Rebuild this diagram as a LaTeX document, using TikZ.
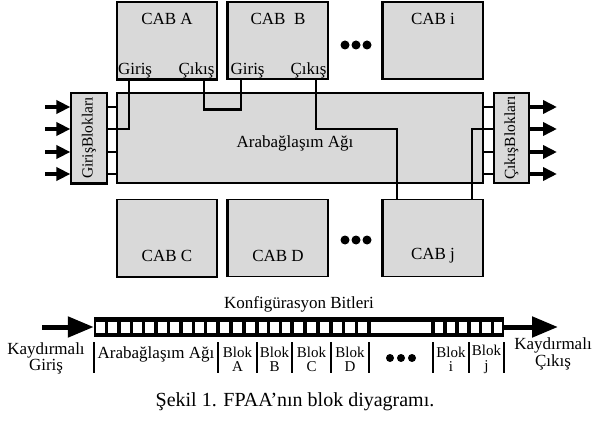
\documentclass[tikz,border=0pt]{standalone}
\usepackage{fontspec}
\setmainfont{Liberation Serif}
\usepackage{tikz}
\usetikzlibrary{arrows.meta,positioning}
\definecolor{PanelGray}{HTML}{D9D9D9}

\begin{document}
\begin{tikzpicture}[x=1pt, y=-1pt, every node/.style={font=\fontsize{17}{19}\selectfont, inner sep=0pt}]
\tikzset{cabbox/.style={draw, line width=1.2pt, fill=PanelGray, minimum width=100pt, minimum height=77pt}}
\tikzset{iobox/.style={draw, line width=1.2pt, fill=PanelGray, minimum width=36pt, minimum height=90pt}}
\tikzset{wire/.style={line width=1.6pt}}
\tikzset{inarrow/.style={-{Triangle[length=14pt,width=13pt]}, line width=4pt}}
\tikzset{bigarrow/.style={-{Triangle[length=26pt,width=20pt]}, line width=5pt}}
\tikzset{twoline/.style={align=center, font=\fontsize{17}{13.5}\selectfont}}
\tikzset{bitlabel/.style={align=center, font=\fontsize{15}{14.5}\selectfont}}
\useasboundingbox (0,0) rectangle (592,425);
% configurable analog blocks
\node[cabbox] (cabA) at (167,40.5) {};
\node[cabbox] (cabB) at (278,40.5) {};
\node[cabbox] (cabI) at (433,40.5) {};
\node[cabbox] (cabC) at (167,238) {};
\node[cabbox] (cabD) at (278,238) {};
\node[cabbox] (cabJ) at (433,238) {};
\draw[line width=2.5pt] (cabB.south west) -- (cabB.north west);
\draw[line width=2.5pt] (cabI.south west) -- (cabI.north west);
\draw[line width=2.5pt] (cabJ.south west) -- (cabJ.north west);
\draw[line width=2.5pt] (cabD.south west) -- (cabD.north west);
\draw[line width=2.5pt] (cabA.south west) -- (cabA.south east);
\draw[line width=2.5pt] (cabC.south west) -- (cabC.south east);
\node (cabAname) at ([yshift=-18pt]cabA.north) {CAB A};
\node (cabBname) at ([yshift=-18pt]cabB.north) {CAB\ \ B};
\node (cabIname) at ([yshift=-18pt]cabI.north) {CAB i};
\node (cabCname) at ([yshift=21pt]cabC.south) {CAB C};
\node (cabDname) at ([yshift=21pt]cabD.south) {CAB D};
\node (cabJname) at ([yshift=21pt]cabJ.south) {CAB j};
\node[anchor=south west] (cabAin) at ([xshift=1.5pt,yshift=1.5pt]cabA.south west) {Giriş};
\node[anchor=south east] (cabAout) at ([xshift=-3pt,yshift=1.5pt]cabA.south east) {Çıkış};
\node[anchor=south west] (cabBin) at ([xshift=3pt,yshift=1.5pt]cabB.south west) {Giriş};
\node[anchor=south east] (cabBout) at ([xshift=-2pt,yshift=1.5pt]cabB.south east) {Çıkış};
\foreach \x in {345,356,367} {
  \fill (\x,45) circle (4.5pt);
  \fill (\x,240) circle (4.5pt);
}
% interconnect and i/o blocks
\node[draw, line width=1.2pt, fill=PanelGray, minimum width=366pt, minimum height=90pt] (net) at (300,138) {};
\node (netLbl) at (295,143) {Arabağlaşım Ağı};
\node[iobox] (inblk) at (89,138) {};
\node[iobox, minimum width=35pt] (outblk) at (511.5,138) {};
\draw[line width=2.5pt] (inblk.south west) -- (inblk.south east);
\node[rotate=90, font=\fontsize{15.5}{17}\selectfont] (inLbl) at (inblk) {GirişBlokları};
\node[rotate=90, font=\fontsize{15.5}{17}\selectfont] (outLbl) at (outblk) {ÇıkışBlokları};
\coordinate (aIn) at (129,79);
\coordinate (aOut) at (204,79);
\coordinate (bIn) at (241,79);
\coordinate (bOut) at (316,79);
\coordinate (jIn) at (397,199.5);
\coordinate (jOut) at (472,199.5);
\foreach \y [count=\i] in {107,129,152,174} {
  \coordinate (src\i) at (45,\y);
  \coordinate (dst\i) at (557,\y);
  \draw[inarrow] (src\i) -- (inblk.west |- src\i);
  \draw[inarrow] (outblk.east |- dst\i) -- (dst\i);
}
\foreach \i in {1,3,4} {
  \draw[wire] (inblk.east |- src\i) -- (net.west |- src\i);
  \draw[wire] (net.east |- dst\i) -- (outblk.west |- dst\i);
}
\draw[wire] (inblk.east |- src2) -| (aIn);
\draw[wire] (aOut) -- ++(0,31) -| (bIn);
\draw[line width=3pt] (aOut |- 0,110) -- (bIn |- 0,110);
\draw[wire] (bOut) -- (bOut |- src2) -| (jIn);
\draw[wire] (outblk.west |- dst2) -| (jOut);
% configuration bit register
\node[fill=black, minimum width=410pt, minimum height=20pt] (reg) at (299,327) {};
\foreach \a/\b/\n in {94/218/10, 218/257/3, 257/292/3, 292/331/3, 331/369/3, 433/469/3, 469/504/3} {
  \pgfmathsetmacro\w{(\b-\a)/\n}
  \foreach \k in {1,...,\n} {
    \fill[white] ({\a+(\k-1)*\w+1.7},322) rectangle ({\a+\k*\w-1.7},333);
  }
}
\fill[white] (371,322) rectangle (431,333);
\coordinate (shiftIn) at (42,327);
\coordinate (shiftOut) at (558,327);
\draw[bigarrow] (shiftIn) -- (reg.west);
\draw[bigarrow] (reg.east) -- (shiftOut);
\node[above=4pt of reg] (cfgLbl) {Konfigürasyon Bitleri};
\foreach \x in {94,218,257,292,331,369,433,469,504} {
  \draw[line width=1.5pt] (\x,342) -- (\x,373);
}
\node (netBits) at (156,354) {Arabağlaşım Ağı};
\node[bitlabel] (bitsA) at (237.5,359.5) {Blok\\A};
\node[bitlabel] (bitsB) at (274.5,359.5) {Blok\\B};
\node[bitlabel] (bitsC) at (311.5,359.5) {Blok\\C};
\node[bitlabel] (bitsD) at (350,359.5) {Blok\\D};
\node[bitlabel] (bitsI) at (451,359.5) {Blok\\i};
\node[bitlabel] (bitsJ) at (486.5,359.5) {Blok\\j};
\foreach \x in {390,401,412} {
  \fill (\x,358) circle (4pt);
}
\node[twoline] (shiftInLbl) at (46,358) {Kaydırmalı\\Giriş};
\node[twoline] (shiftOutLbl) at (553,354) {Kaydırmalı\\Çıkış};
% caption
\node[font=\fontsize{20}{24}\selectfont] (caption) at (295,402) {Şekil 1. FPAA’nın blok diyagramı.};
\end{tikzpicture}
\end{document}
